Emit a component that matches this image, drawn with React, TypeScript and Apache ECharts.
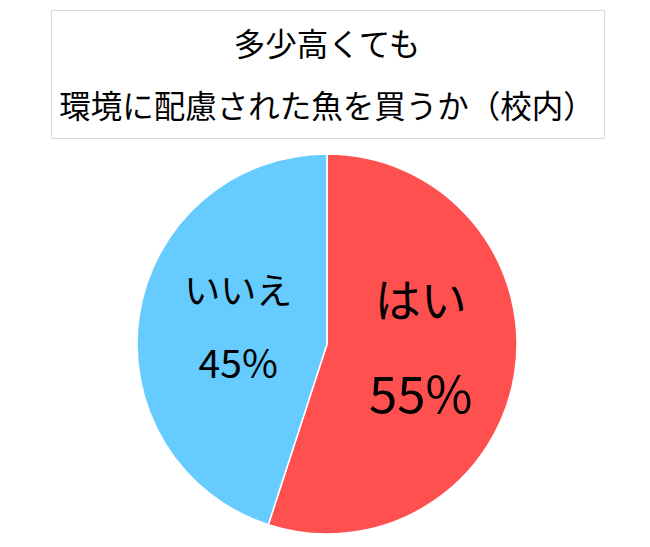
import React, { useEffect, useRef } from 'react'
import * as echarts from 'echarts'

const titleLines = ['多少高くても', '環境に配慮された魚を買うか（校内）']
const categories = ['はい', 'いいえ']
const values = [55, 45]
const colors = ['#FF5050', '#66CCFF']

// label sizes differ per slice in the original
const labelStyles = [
  { nameSize: 46, pctSize: 51, nameLh: 114, pctLh: 74, pad: [0, 6, 50, 0] },
  { nameSize: 36, pctSize: 39, nameLh: 78, pctLh: 68, pad: [0, 0, 14, 16] }
]

const FONT = '"Noto Sans CJK JP", "Noto Sans", sans-serif'

const App: React.FC = () => {
  const chartRef = useRef<HTMLDivElement>(null)

  useEffect(() => {
    if (!chartRef.current) return
    const chart = echarts.init(chartRef.current, undefined, { renderer: 'svg' })

    const pieData = categories.map((name, i) => {
      const s = labelStyles[i]
      return {
        name,
        value: values[i],
        itemStyle: { color: colors[i] },
        label: {
          padding: s.pad,
          rich: {
            n: { fontSize: s.nameSize, lineHeight: s.nameLh, color: '#000', fontFamily: FONT },
            p: { fontSize: s.pctSize, lineHeight: s.pctLh, color: '#000', fontFamily: FONT }
          }
        }
      }
    })

    const option: echarts.EChartsOption = {
      animation: false,
      graphic: [
        {
          type: 'rect',
          shape: { x: 51.5, y: 10.5, width: 553, height: 128 },
          style: { fill: '#fff', stroke: '#d9d9d9', lineWidth: 1 },
          z: 0
        },
        ...titleLines.map((t, i) => ({
          type: 'text' as const,
          x: 327,
          y: i === 0 ? 42 : 104,
          style: {
            text: t,
            fontSize: 31.5,
            fontFamily: FONT,
            fill: '#000',
            textAlign: 'center' as const,
            textVerticalAlign: 'middle' as const
          },
          z: 1
        }))
      ],
      series: [
        {
          type: 'pie',
          center: [327, 344],
          radius: 190,
          startAngle: 90,
          clockwise: true,
          data: pieData,
          itemStyle: { borderColor: '#fff', borderWidth: 1.5 },
          label: {
            show: true,
            position: 'inside',
            formatter: '{n|{b}}\n{p|{d}%}'
          },
          labelLine: { show: false },
          emphasis: { disabled: true }
        }
      ]
    }

    chart.setOption(option)
    return () => {
      chart.dispose()
    }
  }, [])

  return (
    <div
      ref={chartRef}
      style={{ position: 'fixed', left: 0, top: 0, width: 650, height: 547, background: '#fff' }}
    />
  )
}

export default App
